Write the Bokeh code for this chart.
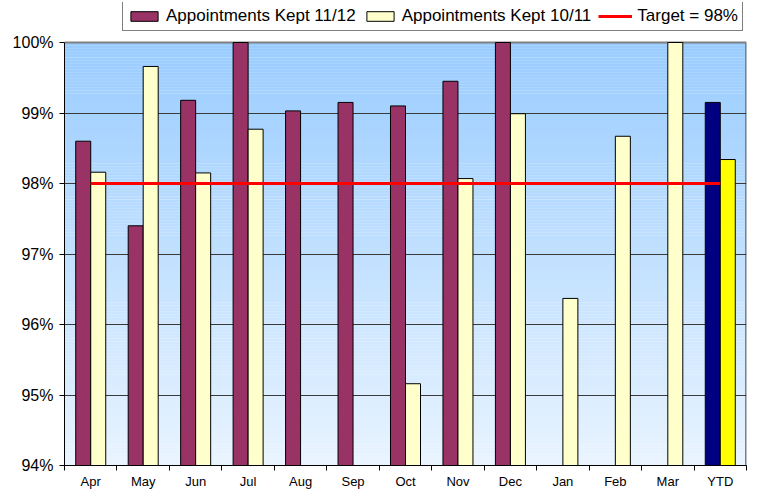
import numpy as np
from bokeh.plotting import figure
from bokeh.models import (ColumnDataSource, FixedTicker, PrintfTickFormatter,
                          Legend, LegendItem, Range1d, Span)
from bokeh.embed import file_html
from bokeh.resources import INLINE

# ---------------- data ----------------
months = ["Apr", "May", "Jun", "Jul", "Aug", "Sep", "Oct", "Nov", "Dec",
          "Jan", "Feb", "Mar", "YTD"]
kept_1112 = [98.60, 97.40, 99.18, 100.0, 99.03, 99.15, 99.10, 99.45, 100.0,
             None, None, None, 99.15]
kept_1011 = [98.16, 99.66, 98.15, 98.77, None, None, 95.16, 98.07, 98.99,
             96.37, 98.67, 100.0, 98.34]
target = [98.0] * 13
y_ticks = [94, 95, 96, 97, 98, 99, 100]

# ---------------- styles / layout ----------------
FONT = "Liberation Sans"
MAROON, NAVY = "#993366", "#000080"
LYELLOW, YELLOW = "#FFFFCC", "#FFFF00"
BAR_W = 0.286
OFF = BAR_W / 2
W, H = 756, 491
BL, BR, BT, BB = 64, 10, 2, 26
Y_TOP_PX = 42            # where the 100% line should sit (from top)
frame_bottom = H - BB
ymin, ymax = y_ticks[0], y_ticks[-1]
px_per_unit = (frame_bottom - Y_TOP_PX) / (ymax - ymin)
y_end = ymax + (Y_TOP_PX - BT) / px_per_unit
xmin, xmax = -0.5, len(months) - 0.5

idx = list(range(len(months)))

def build(vals, offset, normal, ytd):
    xs, tops, cols = [], [], []
    for i, (m, v) in enumerate(zip(months, vals)):
        if v is None:
            continue
        xs.append(i + offset)
        tops.append(v)
        cols.append(ytd if m == "YTD" else normal)
    return ColumnDataSource(dict(x=xs, top=tops, color=cols))

src_a = build(kept_1112, -OFF, MAROON, NAVY)
src_b = build(kept_1011, OFF, LYELLOW, YELLOW)

p = figure(width=W, height=H,
           x_range=Range1d(xmin, xmax),
           y_range=Range1d(ymin, y_end),
           output_backend="svg", toolbar_location=None,
           min_border_left=BL, min_border_right=BR,
           min_border_top=BT, min_border_bottom=BB)
p.background_fill_color = "white"
p.border_fill_color = "white"
p.outline_line_color = None

# gradient background (decorative): thin horizontal stripes, 94%..100%
N = 140
edges = np.linspace(ymin, ymax, N + 1)
t = (np.arange(N) + 0.5) / N
top_c = np.array([153, 204, 255])
bot_c = np.array([233, 244, 255])
cols = ["#%02x%02x%02x" % tuple(int(round(b + (a - b) * f)) for a, b in zip(top_c, bot_c))
        for f in t]
tops = edges[1:].copy()
tops[:-1] += 0.003
p.quad(left=xmin, right=xmax, bottom=edges[:-1], top=tops,
       fill_color=cols, line_color=None, level="image")

# grid
p.xgrid.visible = False
p.ygrid.ticker = FixedTicker(ticks=y_ticks[:-1])
p.ygrid.grid_line_color = "#3a3a3a"
p.ygrid.grid_line_width = 1

# plot-area border (top and right, grey)
p.add_layout(Span(location=ymax, dimension="width", line_color="#808080",
                  line_width=2, level="underlay"))
p.segment(x0=[xmax], y0=[ymin], x1=[xmax], y1=[ymax], line_color="#808080",
          line_width=3, level="underlay")

# bars
r1 = p.vbar(x="x", top="top", bottom=ymin, width=BAR_W, source=src_a,
            fill_color="color", line_color="black", line_width=1)
r2 = p.vbar(x="x", top="top", bottom=ymin, width=BAR_W, source=src_b,
            fill_color="color", line_color="black", line_width=1)
r3 = p.line(x=idx, y=target, line_color="#FF0000", line_width=3)

# y axis
ya = p.yaxis[0]
ya.ticker = FixedTicker(ticks=y_ticks)
ya.bounds = (ymin, ymax)
ya.formatter = PrintfTickFormatter(format="%d%%")
ya.axis_line_color = "black"
ya.major_tick_in = 0
ya.major_tick_out = 5
ya.minor_tick_line_color = None
ya.major_label_standoff = 6
ya.major_label_text_font = FONT
ya.major_label_text_font_size = "16px"
ya.major_label_text_color = "black"

# x axis
xa = p.xaxis[0]
xa.ticker = FixedTicker(ticks=idx, minor_ticks=[i - 0.5 for i in range(len(months) + 1)])
xa.major_label_overrides = {i: m for i, m in enumerate(months)}
xa.axis_line_color = "black"
xa.major_tick_line_color = None
xa.major_tick_in = 0
xa.major_tick_out = 5
xa.minor_tick_in = 0
xa.minor_tick_out = 5
xa.minor_tick_line_color = "black"
xa.major_label_standoff = 3
xa.major_label_text_font = FONT
xa.major_label_text_font_size = "13px"
xa.major_label_text_color = "black"

# legend (inside the top strip of the frame, above the 100% line)
legend = Legend(items=[
    LegendItem(label="Appointments Kept 11/12", renderers=[r1], index=0),
    LegendItem(label="Appointments Kept 10/11", renderers=[r2], index=0),
    LegendItem(label="Target = 98%", renderers=[r3]),
], orientation="horizontal", location=(58, frame_bottom - 31))
legend.label_text_font = FONT
legend.label_text_font_size = "17px"
legend.label_text_color = "black"
legend.glyph_width = 34
legend.glyph_height = 12
legend.label_height = 18
legend.label_standoff = 5
legend.spacing = 7
legend.padding = 4
legend.margin = 0
legend.border_line_color = "black"
legend.border_line_width = 1
legend.background_fill_color = "white"
legend.background_fill_alpha = 1
p.add_layout(legend, "center")

open("out.html", "w").write(file_html(p, INLINE))
